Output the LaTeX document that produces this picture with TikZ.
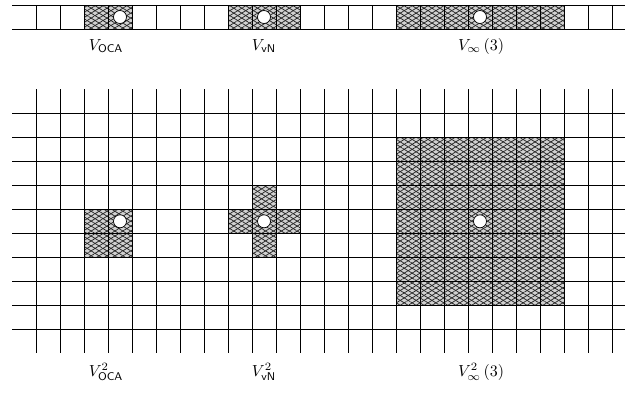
\documentclass[tikz,border=0pt]{standalone}
\usetikzlibrary{patterns.meta}
\tikzset{
  gridline/.style={line width=0.9pt, black},
  hatchbg/.style={fill=black!18},
  hatchA/.style={pattern={Lines[angle=32,distance=4.2pt,line width=0.75pt]}, pattern color=black!85},
  hatchB/.style={pattern={Lines[angle=-32,distance=4.2pt,line width=0.75pt]}, pattern color=black!85},
  site/.style={circle, draw=black, fill=white, line width=0.7pt, minimum size=13pt, inner sep=0pt},
  lbl/.style={inner sep=0pt}
}
\newcommand{\hatchrect}[4]{%
  \fill[hatchbg] (#1,#2) rectangle (#3,#4);
  \fill[hatchA] (#1,#2) rectangle (#3,#4);
  \fill[hatchB] (#1,#2) rectangle (#3,#4);}
\newcommand{\lbltext}[1]{\scalebox{1.6}{#1}}
\begin{document}
\begin{tikzpicture}[x=1pt,y=-1pt]
\useasboundingbox (0,0) rectangle (625,392);
% ---------- top strip ----------
\hatchrect{84}{5}{132}{29}
\hatchrect{228}{5}{300}{29}
\hatchrect{396}{5}{564}{29}
\foreach \yy in {5,29} \draw[gridline] (12,\yy) -- (625,\yy);
\foreach \k in {0,...,24} \draw[gridline] ({36+24*\k},5) -- ({36+24*\k},29);
\node[site] (c1) at (120,17) {};
\node[site] (c2) at (264,17) {};
\node[site] (c3) at (480,17) {};
\node[lbl] (l1) at (106,46) {\lbltext{$V_{\mathsf{OCA}}$}};
\node[lbl] (l2) at (264,46) {\lbltext{$V_{\mathsf{vN}}$}};
\node[lbl] (l3) at (481,46) {\lbltext{$V_\infty\,(3)$}};
% ---------- bottom grid ----------
\hatchrect{84}{209.3}{132}{257.3}
\hatchrect{228}{209.3}{300}{233.3}
\hatchrect{252}{185.3}{276}{257.3}
\hatchrect{396}{137.3}{564}{305.3}
\foreach \j in {0,...,9} \draw[gridline] (12,{113.3+24*\j}) -- (625,{113.3+24*\j});
\foreach \k in {0,...,24} \draw[gridline] ({36+24*\k},89) -- ({36+24*\k},353);
\node[site] (d1) at (120,221.3) {};
\node[site] (d2) at (264,221.3) {};
\node[site] (d3) at (480,221.3) {};
\node[lbl] (m1) at (106,372) {\lbltext{$V^2_{\mathsf{OCA}}$}};
\node[lbl] (m2) at (264,372) {\lbltext{$V^2_{\mathsf{vN}}$}};
\node[lbl] (m3) at (481,372) {\lbltext{$V^2_\infty\,(3)$}};
\end{tikzpicture}
\end{document}
